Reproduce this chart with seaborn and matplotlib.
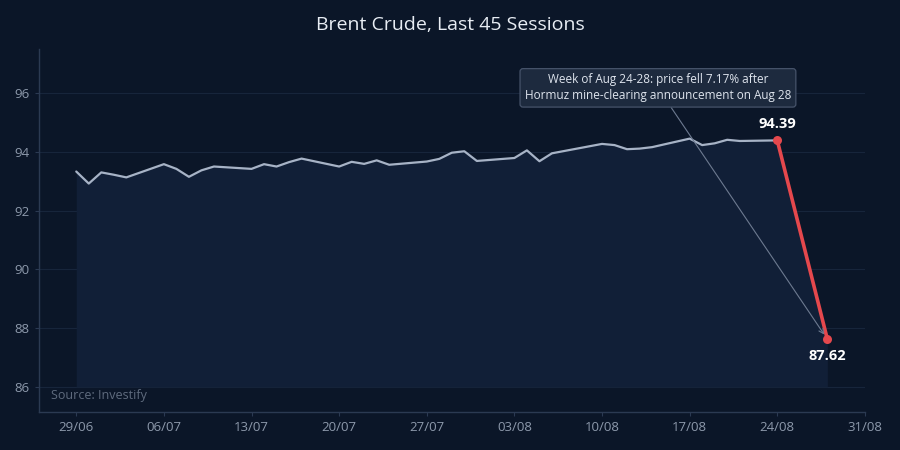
import pandas as pd
import numpy as np
import matplotlib
matplotlib.use("Agg")
import matplotlib.pyplot as plt
import matplotlib.dates as mdates
import seaborn as sns

# ==========================================
# DATA: Brent crude closes
# ==========================================
session_dates = [
    "2026-06-29", "2026-06-30", "2026-07-01", "2026-07-02", "2026-07-03",
    "2026-07-06", "2026-07-07", "2026-07-08", "2026-07-09", "2026-07-10",
    "2026-07-13", "2026-07-14", "2026-07-15", "2026-07-16", "2026-07-17",
    "2026-07-20", "2026-07-21", "2026-07-22", "2026-07-23", "2026-07-24",
    "2026-07-27", "2026-07-28", "2026-07-29", "2026-07-30", "2026-07-31",
    "2026-08-03", "2026-08-04", "2026-08-05", "2026-08-06", "2026-08-07",
    "2026-08-10", "2026-08-11", "2026-08-12", "2026-08-13", "2026-08-14",
    "2026-08-17", "2026-08-18", "2026-08-19", "2026-08-20", "2026-08-21",
    "2026-08-24", "2026-08-28",
]
close_prices = [
    93.33, 92.92, 93.30, 93.22, 93.13,
    93.58, 93.42, 93.15, 93.37, 93.50,
    93.42, 93.58, 93.50, 93.65, 93.77,
    93.50, 93.66, 93.59, 93.71, 93.56,
    93.67, 93.76, 93.97, 94.02, 93.69,
    93.79, 94.05, 93.68, 93.95, 94.03,
    94.27, 94.23, 94.09, 94.11, 94.16,
    94.45, 94.23, 94.29, 94.41, 94.37,
    94.39, 87.62,
]
y_ticks = [86, 88, 90, 92, 94, 96]
chart_title = "Brent Crude, Last 45 Sessions"
note_text = ("Week of Aug 24-28: price fell 7.17% after\n"
             "Hormuz mine-clearing announcement on Aug 28")
source_text = "Source: Investify"

df = pd.DataFrame({"date": pd.to_datetime(session_dates), "price": close_prices})
drop = df.tail(2)

# ==========================================
# STYLE
# ==========================================
BG = "#0b1628"
FILL = "#111f37"
LINE = "#a7b3c6"
RED = "#e5484d"
TICK = "#8d99ab"
SPINE = "#2b3a52"

sns.set_theme(style="dark")
plt.rcParams["font.family"] = ["Open Sans", "Noto Sans", "DejaVu Sans"]

fig = plt.figure(figsize=(9, 4.5), dpi=100, facecolor=BG)
ax = fig.add_axes([0.043, 0.085, 0.918, 0.806])
ax.set_facecolor(BG)

# area under the line
ax.fill_between(df["date"], df["price"], 86, color=FILL, lw=0, zorder=1)

sns.lineplot(data=df.iloc[:-1], x="date", y="price", color=LINE, lw=1.6, ax=ax, zorder=3)
sns.lineplot(data=drop, x="date", y="price", color=RED, lw=2.6, ax=ax, zorder=4)
ax.scatter(drop["date"], drop["price"], s=42, color=RED, zorder=5, lw=0)

# value labels
ax.annotate(f"{drop['price'].iloc[0]:.2f}", (drop["date"].iloc[0], drop["price"].iloc[0]),
            xytext=(0, 7), textcoords="offset points", ha="center", va="bottom",
            color="white", fontsize=10.5, fontweight="bold")
ax.annotate(f"{drop['price'].iloc[1]:.2f}", (drop["date"].iloc[1], drop["price"].iloc[1]),
            xytext=(0, -7), textcoords="offset points", ha="center", va="top",
            color="white", fontsize=10.5, fontweight="bold")

# callout
ax.annotate(note_text, xy=(drop["date"].iloc[1], drop["price"].iloc[1]),
            xytext=(0.7495, 0.893), textcoords="axes fraction",
            ha="center", va="center", color="#dfe5ee", fontsize=8.5, linespacing=1.3,
            bbox=dict(boxstyle="round,pad=0.4,rounding_size=0.25", fc="#1d2a3e", ec="#46536a", lw=0.9),
            arrowprops=dict(arrowstyle="->", color="#6d7a90", lw=0.8, shrinkA=0, shrinkB=4),
            zorder=6)

ax.text(0.015, 0.045, source_text, transform=ax.transAxes, color="#5f6b7e", fontsize=9, va="center")

# axes
ax.set_xlim(pd.Timestamp("2026-06-26"), pd.Timestamp("2026-08-31"))
ax.set_ylim(85.15, 97.5)
ax.set_yticks(y_ticks)
ax.xaxis.set_major_locator(mdates.WeekdayLocator(byweekday=mdates.MO))
ax.xaxis.set_major_formatter(mdates.DateFormatter("%d/%m"))
ax.set_xlabel("")
ax.set_ylabel("")
ax.tick_params(colors=TICK, labelsize=9.5, length=3, width=0.8, color=SPINE, bottom=True, left=True)
ax.grid(axis="y", color="#17253b", lw=0.8)
ax.grid(axis="x", visible=False)
for side in ["top", "right"]:
    ax.spines[side].set_visible(False)
for side in ["left", "bottom"]:
    ax.spines[side].set_color(SPINE)
    ax.spines[side].set_linewidth(1)

fig.text(0.5, 0.945, chart_title, ha="center", va="center", color="#e8edf4", fontsize=14)

fig.savefig("out.png", dpi=100, facecolor=BG)
